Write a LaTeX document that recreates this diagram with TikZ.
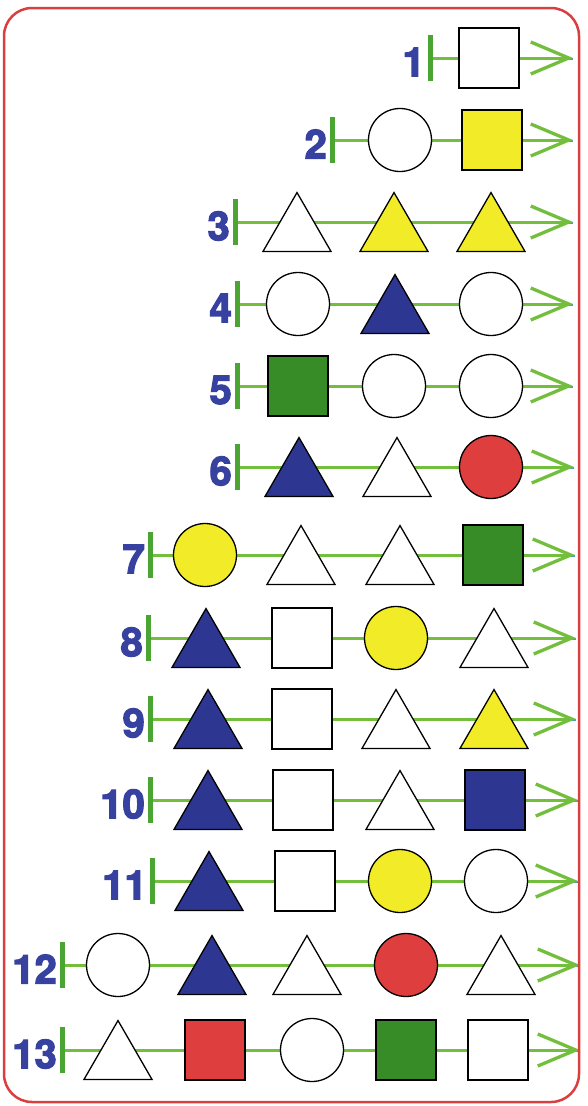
\documentclass[tikz,border=0pt]{standalone}
\usepackage{fontspec}
\setsansfont{TeX Gyre Heros}
\newfontfamily\numfont{TeX Gyre Heros}[BoldFeatures={FakeBold=3}]
\usetikzlibrary{shapes.geometric,arrows.meta,backgrounds}
\definecolor{framec}{RGB}{218,62,62}
\definecolor{lnk}{RGB}{115,190,60}
\definecolor{lnkblue}{RGB}{70,160,190}
\definecolor{barc}{RGB}{75,165,50}
\definecolor{numc}{RGB}{55,65,160}
\definecolor{shyel}{RGB}{242,236,40}
\definecolor{shblu}{RGB}{45,55,145}
\definecolor{shgrn}{RGB}{55,140,40}
\definecolor{shred}{RGB}{222,62,62}
\begin{document}
\begin{tikzpicture}[x=1pt,y=-1pt,
 shp/.style={draw=black, line width=1.3pt, inner sep=0pt, outer sep=0pt},
 sq/.style={shp, rectangle, minimum size=60pt},
 ci/.style={shp, circle, minimum size=63pt},
 tri/.style={shp, regular polygon, regular polygon sides=3, minimum size=78.5pt, yshift=-9.8pt},
 wh/.style={fill=white}, ye/.style={fill=shyel}, bl/.style={fill=shblu},
 gr/.style={fill=shgrn}, rd/.style={fill=shred},
 startbar/.style={fill=barc, draw=none, minimum width=5pt, minimum height=46pt, inner sep=0pt},
 numlab/.style={text=numc, font=\numfont\bfseries\fontsize{40}{40}\selectfont, anchor=east, inner sep=0pt},
 link/.style={draw=lnk, line width=3pt,
   preaction={draw=lnkblue, line width=2pt, -, transform canvas={yshift=-1.3pt}}},
 linkend/.style={link, -{Straight Barb[length=38pt,width=32pt,line width=3.3pt]}}
]
\useasboundingbox (0,0) rectangle (587,1106);
\draw[framec, line width=2.5pt, rounded corners=28pt] (4,8) rectangle (579,1102);

% row 1
\node[startbar] (b1) at (430,58) {};
\node[numlab] (n1) at (425,62) {1};
\node[sq,wh] (s11) at (489,58) {};
\coordinate (e1) at (573,58);
% row 2
\node[startbar] (b2) at (332,140) {};
\node[numlab] (n2) at (327,144) {2};
\node[ci,wh] (s21) at (400,140) {};
\node[sq,ye] (s22) at (492,140) {};
\coordinate (e2) at (573,140);
% row 3
\node[startbar] (b3) at (235,222) {};
\node[numlab] (n3) at (230,226) {3};
\node[tri,wh] (s31) at (297,222) {};
\node[tri,ye] (s32) at (394,222) {};
\node[tri,ye] (s33) at (491,222) {};
\coordinate (e3) at (573,222);
% row 4
\node[startbar] (b4) at (237,304) {};
\node[numlab] (n4) at (232,308) {4};
\node[ci,wh] (s41) at (298,304) {};
\node[tri,bl] (s42) at (395,304) {};
\node[ci,wh] (s43) at (491,304) {};
\coordinate (e4) at (573,304);
% row 5
\node[startbar] (b5) at (237,386) {};
\node[numlab] (n5) at (232,390) {5};
\node[sq,gr] (s51) at (298,386) {};
\node[ci,wh] (s52) at (394,386) {};
\node[ci,wh] (s53) at (491,386) {};
\coordinate (e5) at (573,386);
% row 6
\node[startbar] (b6) at (237,467) {};
\node[numlab] (n6) at (232,471) {6};
\node[tri,bl] (s61) at (299,467) {};
\node[tri,wh] (s62) at (397,467) {};
\node[ci,rd] (s63) at (491,467) {};
\coordinate (e6) at (574,467);
% row 7
\node[startbar] (b7) at (150,555) {};
\node[numlab] (n7) at (145,559) {7};
\node[ci,ye] (s71) at (205,555) {};
\node[tri,wh] (s72) at (301,555) {};
\node[tri,wh] (s73) at (400,555) {};
\node[sq,gr] (s74) at (493,555) {};
\coordinate (e7) at (575,555);
% row 8
\node[startbar] (b8) at (148,638) {};
\node[numlab] (n8) at (143,642) {8};
\node[tri,bl] (s81) at (206,638) {};
\node[sq,wh] (s82) at (302,638) {};
\node[ci,ye] (s83) at (396,638) {};
\node[tri,wh] (s84) at (494,638) {};
\coordinate (e8) at (576,638);
% row 9
\node[startbar] (b9) at (150,719) {};
\node[numlab] (n9) at (145,723) {9};
\node[tri,bl] (s91) at (208,719) {};
\node[sq,wh] (s92) at (302,719) {};
\node[tri,wh] (s93) at (396,719) {};
\node[tri,ye] (s94) at (494,719) {};
\coordinate (e9) at (576,719);
% row 10
\node[startbar] (b10) at (150,800) {};
\node[numlab] (n10) at (145,804) {10};
\node[tri,bl] (s101) at (208,800) {};
\node[sq,wh] (s102) at (303,800) {};
\node[tri,wh] (s103) at (400,800) {};
\node[sq,bl] (s104) at (495,800) {};
\coordinate (e10) at (578,800);
% row 11
\node[startbar] (b11) at (152,881) {};
\node[numlab] (n11) at (147,885) {11};
\node[tri,bl] (s111) at (209,881) {};
\node[sq,wh] (s112) at (305,881) {};
\node[ci,ye] (s113) at (400,881) {};
\node[ci,wh] (s114) at (496,881) {};
\coordinate (e11) at (578,881);
% row 12
\node[startbar] (b12) at (62,965) {};
\node[numlab] (n12) at (57,969) {12};
\node[ci,wh] (s121) at (118,965) {};
\node[tri,bl] (s122) at (212,965) {};
\node[tri,wh] (s123) at (307,965) {};
\node[ci,rd] (s124) at (406,965) {};
\node[tri,wh] (s125) at (501,965) {};
\coordinate (e12) at (580,965);
% row 13
\node[startbar] (b13) at (62,1050) {};
\node[numlab] (n13) at (57,1054) {13};
\node[tri,wh] (s131) at (118,1050) {};
\node[sq,rd] (s132) at (215,1050) {};
\node[ci,wh] (s133) at (312,1050) {};
\node[sq,gr] (s134) at (406,1050) {};
\node[sq,wh] (s135) at (498,1050) {};
\coordinate (e13) at (580,1050);

\begin{scope}[on background layer]
\draw[linkend] (b1.center) -- (s11 |- b1) -- (e1);
\draw[linkend] (b2.center) -- (s21 |- b2) -- (s22 |- b2) -- (e2);
\draw[linkend] (b3.center) -- (s31 |- b3) -- (s32 |- b3) -- (s33 |- b3) -- (e3);
\draw[linkend] (b4.center) -- (s41 |- b4) -- (s42 |- b4) -- (s43 |- b4) -- (e4);
\draw[linkend] (b5.center) -- (s51 |- b5) -- (s52 |- b5) -- (s53 |- b5) -- (e5);
\draw[linkend] (b6.center) -- (s61 |- b6) -- (s62 |- b6) -- (s63 |- b6) -- (e6);
\draw[linkend] (b7.center) -- (s71 |- b7) -- (s72 |- b7) -- (s73 |- b7) -- (s74 |- b7) -- (e7);
\draw[linkend] (b8.center) -- (s81 |- b8) -- (s82 |- b8) -- (s83 |- b8) -- (s84 |- b8) -- (e8);
\draw[linkend] (b9.center) -- (s91 |- b9) -- (s92 |- b9) -- (s93 |- b9) -- (s94 |- b9) -- (e9);
\draw[linkend] (b10.center) -- (s101 |- b10) -- (s102 |- b10) -- (s103 |- b10) -- (s104 |- b10) -- (e10);
\draw[linkend] (b11.center) -- (s111 |- b11) -- (s112 |- b11) -- (s113 |- b11) -- (s114 |- b11) -- (e11);
\draw[linkend] (b12.center) -- (s121 |- b12) -- (s122 |- b12) -- (s123 |- b12) -- (s124 |- b12) -- (s125 |- b12) -- (e12);
\draw[linkend] (b13.center) -- (s131 |- b13) -- (s132 |- b13) -- (s133 |- b13) -- (s134 |- b13) -- (s135 |- b13) -- (e13);
\end{scope}
\end{tikzpicture}
\end{document}
